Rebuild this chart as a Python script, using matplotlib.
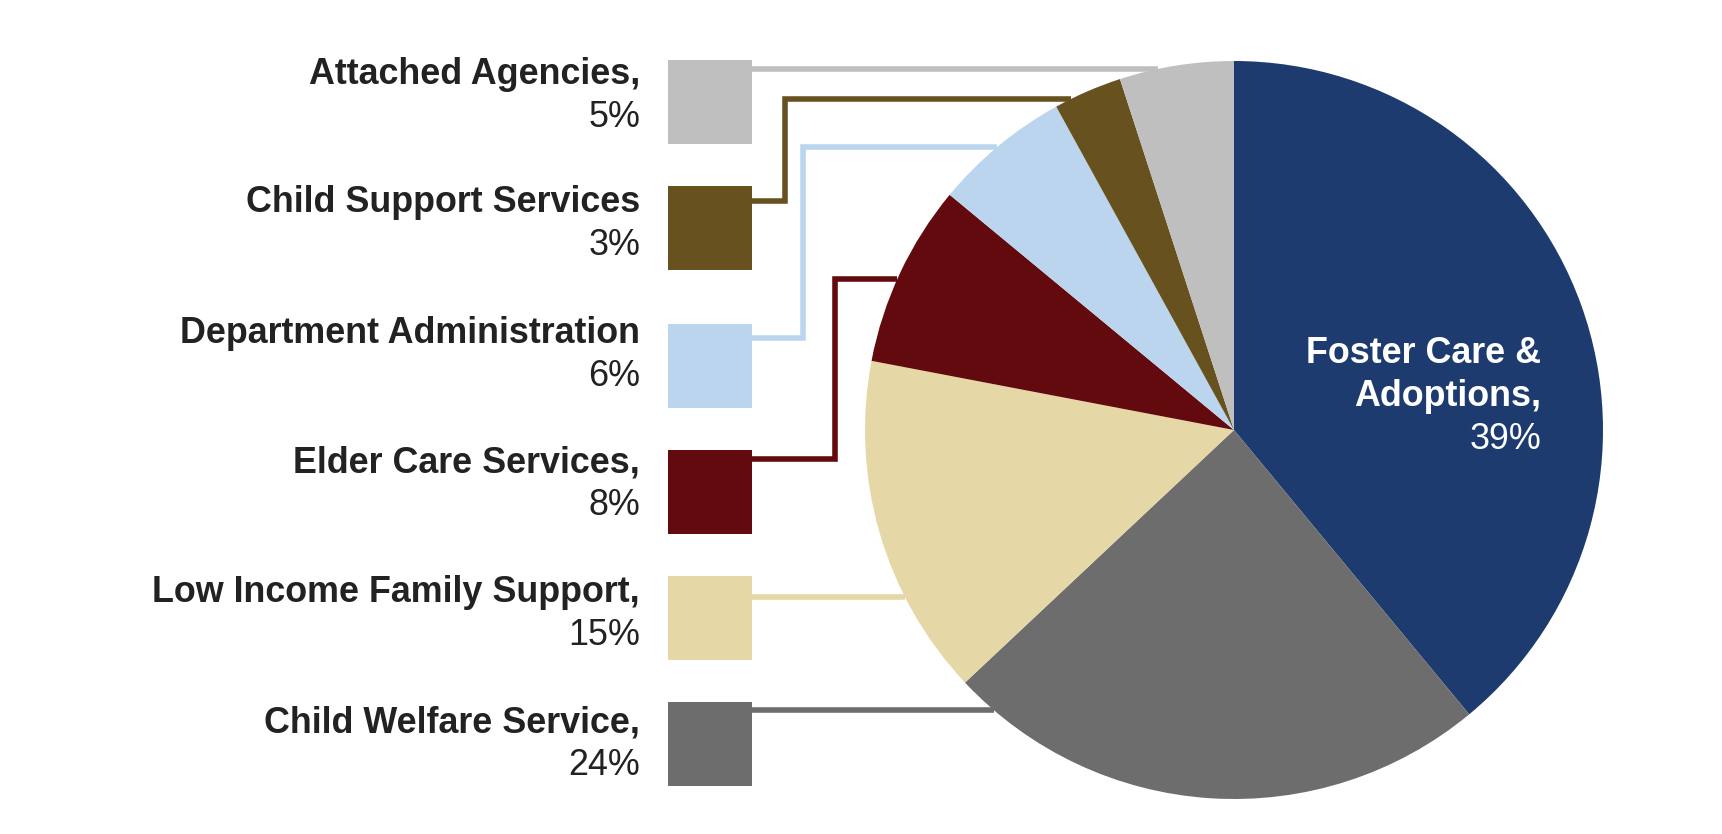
import numpy as np
import matplotlib
matplotlib.use("Agg")
import matplotlib.pyplot as plt
from matplotlib.patches import Rectangle

plt.rcParams['font.family'] = ['Liberation Sans', 'DejaVu Sans']

# data, in pie order (clockwise from 12 o'clock)
categories = ['Foster Care & Adoptions', 'Child Welfare Service', 'Low Income Family Support',
              'Elder Care Services', 'Department Administration', 'Child Support Services',
              'Attached Agencies']
shares = [39, 24, 15, 8, 6, 3, 5]
colors = ['#1E3B6F', '#6D6D6D', '#E5D7A6', '#630A0E', '#BBD5EE', '#67511F', '#BFBFBF']
label_text = ['Foster Care &\nAdoptions,', 'Child Welfare Service,', 'Low Income Family Support,',
              'Elder Care Services,', 'Department Administration', 'Child Support Services',
              'Attached Agencies,']

W, H = 1722, 834
cx, cy, R = 1234, 430, 369
TXT = '#222222'
FS = 25.8

# legend layout (pixels from top), listed top to bottom
legend_order = [6, 5, 4, 3, 2, 1]
box_top = [60, 186, 324, 450, 576, 702]
base1 = [84, 212, 343, 472, 602, 732]
line_y = [69, 201, 338, 459, 597, 710]
elbow = [None, (785, 99), (803, 147), (835, 279), None, None]
box_x, box_w = 668, 84
text_x = 640

fig = plt.figure(figsize=(W / 100, H / 100), dpi=100)
ax = fig.add_axes([0, 0, 1, 1])

ax.pie(shares, colors=colors, startangle=90, counterclock=False,
       center=(cx, H - cy), radius=R, wedgeprops=dict(linewidth=0))

def edge_x(y):
    return cx - np.sqrt(R ** 2 - (y - cy) ** 2)

for k, i in enumerate(legend_order):
    c = colors[i]
    ax.add_patch(Rectangle((box_x, H - box_top[k] - 84), box_w, 84, color=c, lw=0, zorder=3))
    x0 = box_x + box_w
    if elbow[k] is None:
        xs = [x0, edge_x(line_y[k])]
        ys = [line_y[k], line_y[k]]
    else:
        ex, ey = elbow[k]
        xs = [x0, ex, ex, edge_x(ey)]
        ys = [line_y[k], line_y[k], ey, ey]
    ax.plot(xs, [H - y for y in ys], color=c, lw=4, solid_joinstyle='miter',
            solid_capstyle='butt', zorder=1)
    ax.text(text_x, H - base1[k], label_text[i], ha='right', va='baseline',
            fontsize=FS, fontweight='bold', color=TXT)
    ax.text(text_x, H - base1[k] - 43, f'{shares[i]}%', ha='right', va='baseline',
            fontsize=FS, color=TXT)

# label inside the big slice
ax.text(1541, H - 363, 'Foster Care &', ha='right', va='baseline', fontsize=FS,
        fontweight='bold', color='white', zorder=4)
ax.text(1541, H - 406, 'Adoptions,', ha='right', va='baseline', fontsize=FS,
        fontweight='bold', color='white', zorder=4)
ax.text(1541, H - 449, f'{shares[0]}%', ha='right', va='baseline', fontsize=FS,
        color='white', zorder=4)

ax.set_xlim(0, W)
ax.set_ylim(0, H)
ax.set_aspect('equal')
ax.axis('off')

fig.savefig('out.png', dpi=100, facecolor='white')
